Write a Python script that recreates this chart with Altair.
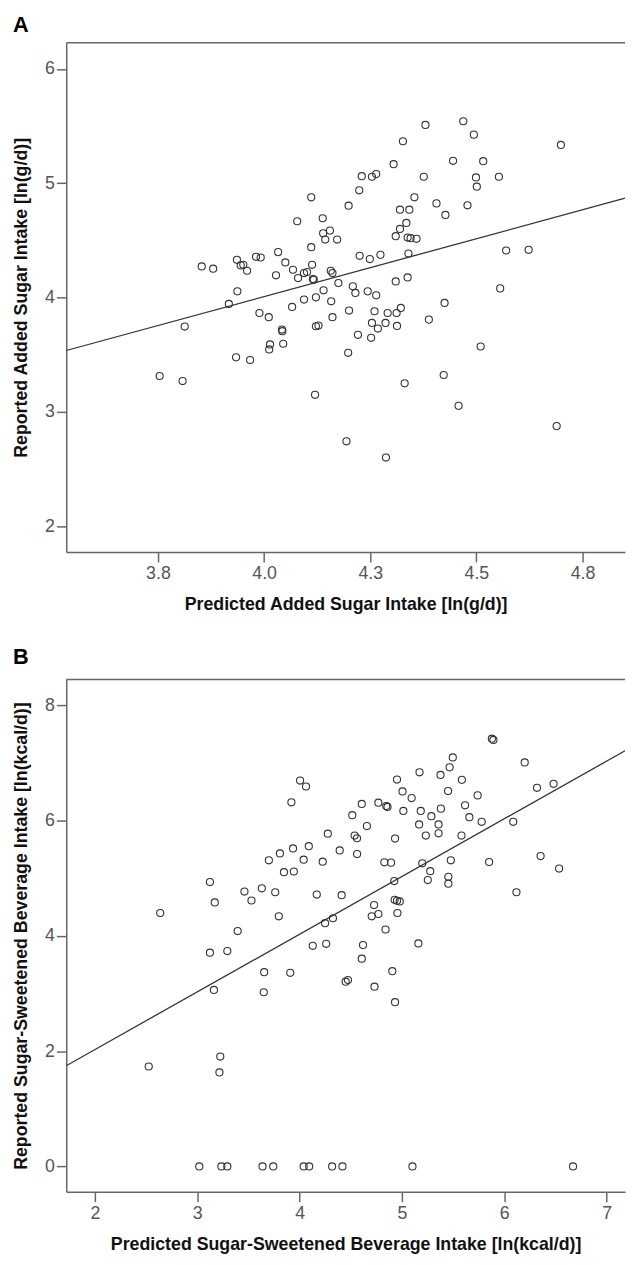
import altair as alt
import pandas as pd

# ---------------- Panel A data (ln g/d) ----------------
a_pred = [3.853, 3.880, 3.936, 3.945, 3.951, 3.960, 3.981, 3.992, 4.033, 4.050,
          4.028, 4.068, 4.080, 4.094, 4.101, 4.113, 4.115, 4.117, 4.078, 4.111,
          4.111, 4.138, 4.139, 4.155, 4.144, 4.172, 4.157, 4.161, 4.175, 4.199,
          4.224, 4.230, 4.254, 4.264, 4.305, 4.327, 4.380, 4.469, 4.494, 4.445,
          4.516, 4.376, 4.499, 4.553, 4.501, 4.354, 4.406, 4.479, 4.320, 4.342,
          4.427, 4.335, 4.320, 4.310, 4.338, 4.345, 4.359, 4.699, 4.570, 4.623,
          4.340, 4.225, 4.249, 4.274, 4.310, 4.338, 4.556, 4.209, 4.215, 4.244,
          4.264, 4.140, 4.122, 4.158, 4.094, 4.066, 3.917, 3.937, 3.989, 4.011,
          4.200, 4.260, 4.291, 4.312, 4.322, 4.425, 4.161, 4.388, 3.813, 4.042,
          4.043, 4.014, 4.012, 4.045, 3.934, 3.967, 4.122, 4.128, 4.221, 4.252,
          4.254, 4.268, 4.286, 4.313, 4.198, 4.510, 3.754, 3.808, 4.120, 4.331,
          4.423, 4.458, 4.689, 4.194, 4.287]
a_rep = [4.273, 4.253, 4.331, 4.282, 4.287, 4.235, 4.357, 4.351, 4.398, 4.308,
         4.195, 4.244, 4.171, 4.215, 4.224, 4.287, 4.163, 4.157, 4.668, 4.877,
         4.441, 4.694, 4.563, 4.586, 4.508, 4.508, 4.235, 4.215, 4.128, 4.804,
         4.938, 5.062, 5.057, 5.080, 5.167, 5.367, 5.510, 5.542, 5.425, 5.196,
         5.193, 5.057, 5.051, 5.057, 4.970, 4.877, 4.824, 4.807, 4.769, 4.769,
         4.723, 4.653, 4.601, 4.537, 4.525, 4.520, 4.514, 5.335, 4.412, 4.418,
         4.386, 4.366, 4.337, 4.374, 4.142, 4.177, 4.081, 4.099, 4.041, 4.055,
         4.020, 4.064, 4.003, 3.968, 3.983, 3.919, 3.945, 4.055, 3.866, 3.829,
         3.887, 3.881, 3.866, 3.866, 3.910, 3.954, 3.829, 3.808, 3.747, 3.721,
         3.707, 3.591, 3.547, 3.597, 3.478, 3.455, 3.750, 3.756, 3.675, 3.649,
         3.779, 3.730, 3.779, 3.753, 3.518, 3.573, 3.315, 3.271, 3.151, 3.251,
         3.324, 3.054, 2.877, 2.744, 2.602]
a_fit_x = [3.534, 4.85]
a_fit_y = [3.538, 4.869]

# ---------------- Panel B data (ln kcal/d) ----------------
b_pred = [5.879, 5.894, 5.497, 5.466, 5.377, 5.172, 5.586, 4.952, 6.200, 6.320,
          6.482, 4.005, 4.063, 3.920, 5.006, 5.095, 5.451, 5.740, 4.770, 4.847,
          4.859, 4.608, 5.014, 5.184, 5.381, 5.617, 5.288, 5.659, 5.779, 6.088,
          4.515, 4.658, 5.168, 5.358, 5.234, 5.358, 5.582, 4.276, 4.538, 4.561,
          4.933, 4.562, 4.392, 4.090, 3.936, 3.808, 3.700, 4.040, 4.226, 3.847,
          3.944, 4.828, 4.894, 5.199, 5.478, 5.852, 6.355, 6.536, 5.277, 4.925,
          5.253, 5.454, 5.454, 3.124, 3.171, 3.461, 3.530, 3.631, 3.762, 4.168,
          4.411, 6.119, 4.929, 4.952, 4.979, 4.728, 4.956, 2.638, 3.797, 4.705,
          4.770, 4.249, 4.326, 4.840, 3.395, 3.124, 3.294, 4.129, 4.260, 4.620,
          5.161, 4.608, 3.654, 3.909, 4.906, 4.450, 4.473, 3.163, 3.650, 4.732,
          4.933, 3.225, 3.217, 2.526,
          3.020, 3.236, 3.294, 3.638, 3.743, 4.040, 4.094, 4.318, 4.419, 5.103, 6.672]
b_rep = [7.422, 7.400, 7.096, 6.924, 6.792, 6.838, 6.707, 6.713, 7.010, 6.569,
         6.638, 6.695, 6.592, 6.317, 6.507, 6.392, 6.513, 6.438, 6.311, 6.254,
         6.237, 6.289, 6.168, 6.168, 6.208, 6.266, 6.077, 6.060, 5.980, 5.980,
         6.094, 5.906, 5.934, 5.934, 5.740, 5.780, 5.740, 5.774, 5.740, 5.694,
         5.689, 5.419, 5.483, 5.557, 5.517, 5.431, 5.311, 5.322, 5.288, 5.105,
         5.117, 5.277, 5.271, 5.259, 5.311, 5.282, 5.385, 5.168, 5.122, 4.951,
         4.968, 5.026, 4.906, 4.934, 4.580, 4.769, 4.614, 4.826, 4.757, 4.717,
         4.706, 4.757, 4.626, 4.609, 4.598, 4.535, 4.397, 4.397, 4.340, 4.340,
         4.380, 4.220, 4.306, 4.111, 4.083, 3.708, 3.737, 3.828, 3.863, 3.840,
         3.869, 3.605, 3.370, 3.359, 3.388, 3.205, 3.234, 3.062, 3.022, 3.119,
         2.850, 1.906, 1.631, 1.734,
         0, 0, 0, 0, 0, 0, 0, 0, 0, 0, 0]
b_fit_x = [1.72, 7.18]
b_fit_y = [1.747, 7.212]

# ---------------- axes ----------------
a_x_domain = [3.534, 4.85]
a_y_domain = [1.776, 6.229]
a_x_ticks = [3.75, 4.0, 4.25, 4.5, 4.75]
a_x_labels = ["3.8", "4.0", "4.3", "4.5", "4.8"]
a_y_ticks = [2, 3, 4, 5, 6]
b_x_domain = [1.72, 7.18]
b_y_domain = [-0.44, 8.45]
b_x_ticks = [2, 3, 4, 5, 6, 7]
b_y_ticks = [0, 2, 4, 6, 8]
panel_letters = ["A", "B"]

W = 566
HA = 516
HB = 519
FONT = "Liberation Sans"


def label_expr(vals, labels):
    v = "[" + ",".join(repr(x) for x in vals) + "]"
    lab = "[" + ",".join("'" + s + "'" for s in labels) + "]"
    return f"{lab}[indexof({v}, datum.value)]"


def panel(pred, rep, fx, fy, xdom, ydom, xticks, xlabels, yticks,
          xtitle, ytitle, h, letter, letter_gap):
    df = pd.DataFrame({"pred": pred, "rep": rep})
    fit = pd.DataFrame({"pred": fx, "rep": fy})
    if xlabels is not None:
        xaxis = dict(values=xticks, title=xtitle, labelExpr=label_expr(xticks, xlabels))
    else:
        xaxis = dict(values=xticks, title=xtitle, format="d")
    xenc = alt.X("pred:Q", scale=alt.Scale(domain=xdom, nice=False, zero=False),
                 axis=alt.Axis(labelPadding=3, titlePadding=13, **xaxis))
    yenc = alt.Y("rep:Q", scale=alt.Scale(domain=ydom, nice=False, zero=False),
                 axis=alt.Axis(values=yticks, title=ytitle, format="d",
                               labelPadding=2, titlePadding=14))
    pts = alt.Chart(df).mark_point(shape="circle", filled=False, size=52,
                                   color="#333333", strokeWidth=1.1,
                                   opacity=1).encode(x=xenc, y=yenc)
    line = alt.Chart(fit).mark_line(color="#333333", strokeWidth=1.3,
                                    clip=True).encode(x="pred:Q", y="rep:Q")
    top = alt.Chart(pd.DataFrame({"k": [0]})).mark_rule(
        color="#666666", strokeWidth=1.5).encode(
        x=alt.value(0), x2=alt.value(W), y=alt.value(0))
    lab = alt.Chart(pd.DataFrame({"letter": [letter]})).mark_text(
        font=FONT, fontSize=22, fontWeight="bold", color="#000000",
        align="left", baseline="alphabetic").encode(
        text="letter:N", x=alt.value(-54), y=alt.value(-letter_gap))
    return alt.layer(pts, line, top, lab).properties(width=W, height=h)


pa = panel(a_pred, a_rep, a_fit_x, a_fit_y, a_x_domain, a_y_domain,
           a_x_ticks, a_x_labels, a_y_ticks,
           "Predicted Added Sugar Intake [ln(g/d)]",
           "Reported Added Sugar Intake [ln(g/d)]", HA, panel_letters[0], 11)
pb = panel(b_pred, b_rep, b_fit_x, b_fit_y, b_x_domain, b_y_domain,
           b_x_ticks, None, b_y_ticks,
           "Predicted Sugar-Sweetened Beverage Intake [ln(kcal/d)]",
           "Reported Sugar-Sweetened Beverage Intake [ln(kcal/d)]", HB, panel_letters[1], 15.5)

chart = alt.vconcat(pa, pb, spacing=33).properties(
    padding={"left": 4, "top": -2, "right": 0, "bottom": 0}
).configure_view(stroke=None).configure_axis(
    grid=False, domainColor="#666666", domainWidth=1.5,
    tickColor="#666666", tickWidth=1.5, tickSize=10,
    labelFont=FONT, labelFontSize=18, labelColor="#555555",
    titleFont=FONT, titleFontSize=18, titleFontWeight="bold", titleColor="#111111"
)

chart.save("out.html", embed_options={"renderer": "svg", "actions": False})
